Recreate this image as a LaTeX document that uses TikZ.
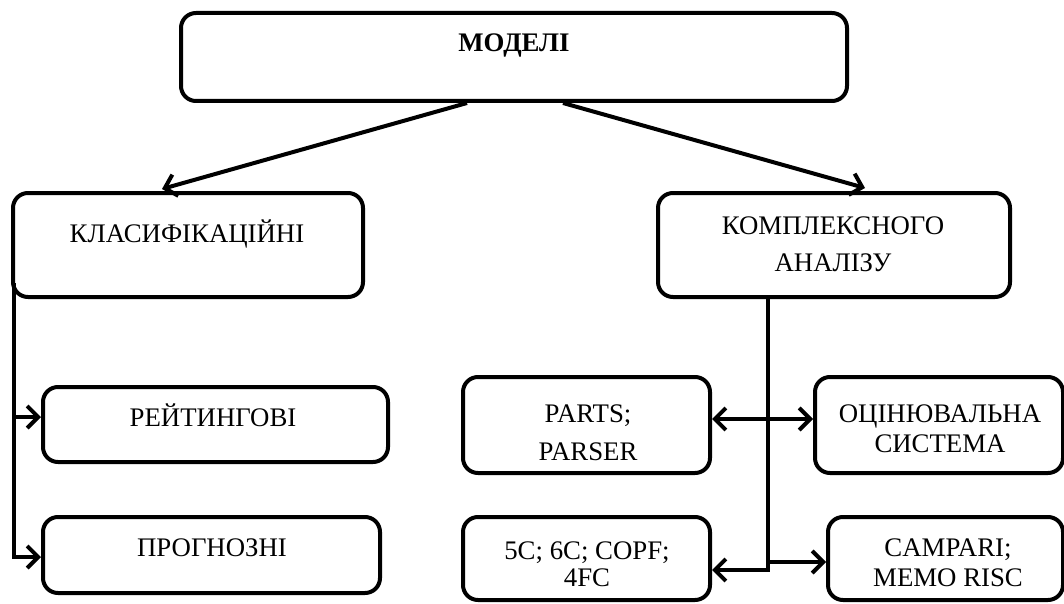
\documentclass[tikz,border=0pt]{standalone}
\usepackage{fontspec}
\setmainfont{Liberation Serif}
\usetikzlibrary{arrows.meta}
\begin{document}
\begin{tikzpicture}[x=1pt,y=-1pt,
  box/.style={draw, line width=4pt, rounded corners=15pt, inner sep=0pt},
  lbl/.style={anchor=base, font=\fontsize{26.8}{30}\selectfont, align=center, inner sep=0pt},
  conn/.style={line width=4pt},
  tip/.style={Straight Barb[length=11pt,width=22pt]},
  arr/.style={line width=4pt, -{Straight Barb[length=11pt,width=22pt]}},
  arrr/.style={line width=4pt, {Straight Barb[length=11pt,width=22pt]}-{Straight Barb[length=11pt,width=22pt]}}]
\useasboundingbox (0,0) rectangle (1064,604);
% boxes
\node[box, minimum width=666pt, minimum height=88pt]  (model) at (514,57) {};
\node[box, minimum width=350pt, minimum height=104pt] (klas)  at (188,245) {};
\node[box, minimum width=352pt, minimum height=104pt] (komp)  at (834,245) {};
\node[box, minimum width=345pt, minimum height=75pt]  (reit)  at (215.5,424.5) {};
\node[box, minimum width=337pt, minimum height=76pt]  (progn) at (211.5,555) {};
\node[box, minimum width=247pt, minimum height=96pt]  (parts) at (586.5,425) {};
\node[box, minimum width=248pt, minimum height=96pt]  (ocin)  at (939,425) {};
\node[box, minimum width=247pt, minimum height=83pt]  (c5)    at (586.5,558.5) {};
\node[box, minimum width=235pt, minimum height=83pt]  (camp)  at (945.5,558.5) {};
% texts (anchor=base: baseline of the last line)
\node[lbl, font=\fontsize{26.8}{30}\selectfont\bfseries] (tmodel) at (514,52) {МОДЕЛІ};
\node[lbl] (tklas) at (187,242) {КЛАСИФІКАЦІЙНІ};
\node[lbl, font=\fontsize{26.8}{37}\selectfont] (tkomp) at (833,271) {КОМПЛЕКСНОГО\\АНАЛІЗУ};
\node[lbl] (treit) at (213,426) {РЕЙТИНГОВІ};
\node[lbl] (tprogn) at (212,556) {ПРОГНОЗНІ};
\node[lbl, font=\fontsize{26.8}{38}\selectfont] (tparts) at (588,460) {PARTS;\\PARSER};
\node[lbl, font=\fontsize{26.8}{30}\selectfont] (tocin) at (940,452) {ОЦІНЮВАЛЬНА\\СИСТЕМА};
\node[lbl, font=\fontsize{26.8}{27}\selectfont] (tc5) at (587,586) {5C; 6C; COPF;\\4FC};
\node[lbl, font=\fontsize{26.8}{30}\selectfont] (tcamp) at (948,586) {CAMPARI;\\MEMO RISC};
% connector coordinates
\coordinate (kt) at (162,189);
\coordinate (ct) at (865,188);
\coordinate (lt) at (14,283);
\coordinate (rb) at (768,570);
\coordinate (rc) at (768,562);
\coordinate (rh) at (768,419);
% connectors
\draw[arr] ([xshift=-47pt]model.south) -- (kt);
\draw[arr] ([xshift=49pt]model.south) -- (ct);
\draw[arr] (lt) |- ([yshift=7.5pt]reit.west);
\draw[arr] (lt) |- ([yshift=-2pt]progn.west);
\draw[arr] (komp.south -| rb) |- (c5.east |- rb);
\draw[arr] (rc) -- (camp.west |- rc);
\draw[arrr] (parts.east |- rh) -- (ocin.west |- rh);
\end{tikzpicture}
\end{document}
